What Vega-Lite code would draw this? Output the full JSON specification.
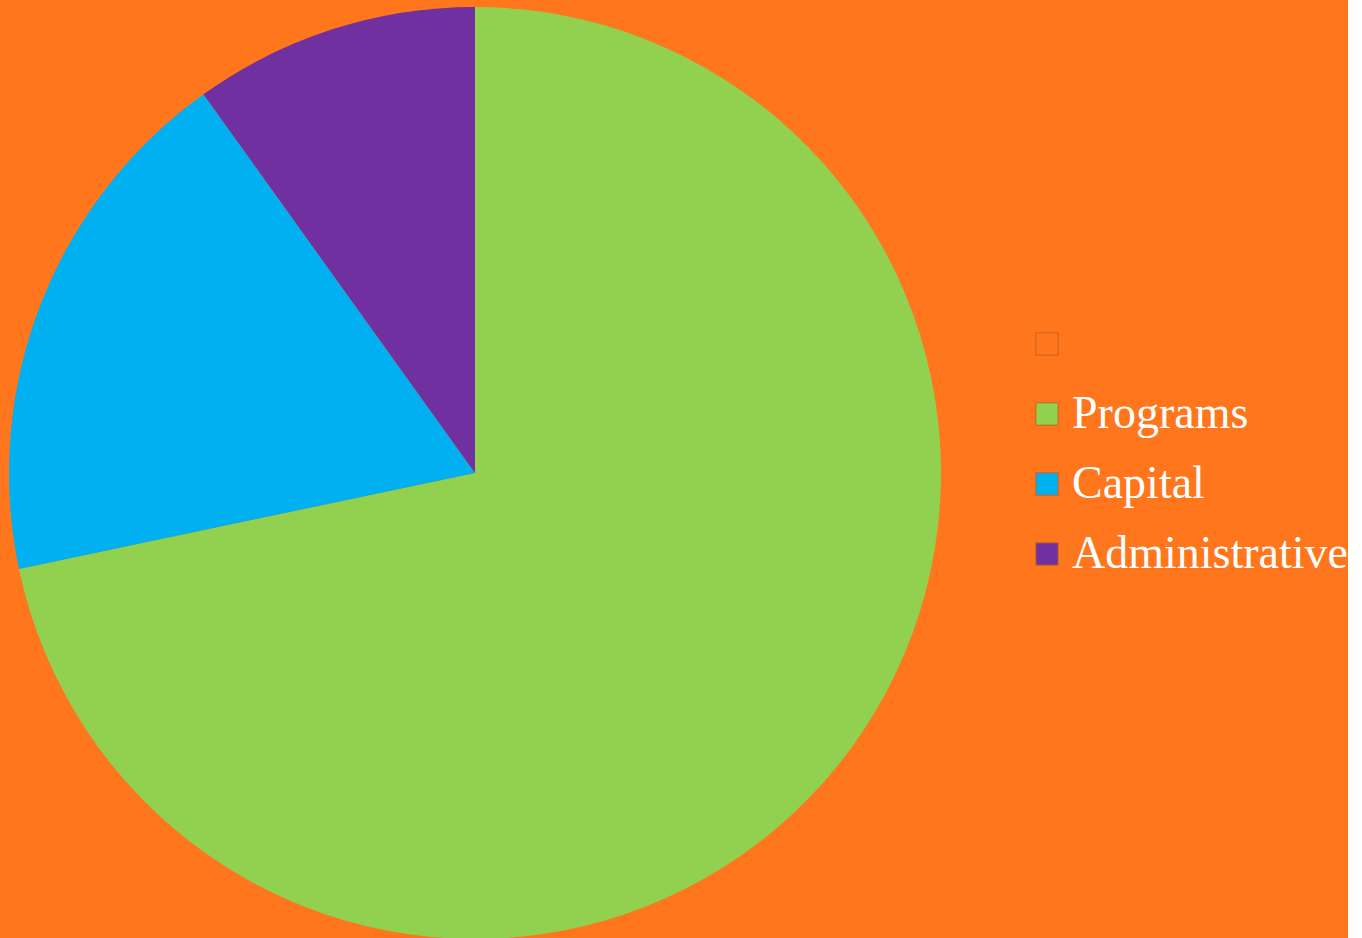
{
  "$schema": "https://vega.github.io/schema/vega-lite/v6.json",
  "width": 950,
  "height": 946,
  "padding": 0,
  "background": "#FF761C",
  "view": {"stroke": null},
  "data": {
    "values": [
      {"category": "", "value": 0, "rank": 0},
      {"category": "Programs", "value": 71.7, "rank": 1},
      {"category": "Capital", "value": 18.4, "rank": 2},
      {"category": "Administrative", "value": 9.9, "rank": 3}
    ]
  },
  "mark": {"type": "arc", "outerRadius": 466},
  "encoding": {
    "theta": {"field": "value", "type": "quantitative", "stack": true},
    "order": {"field": "rank", "type": "quantitative"},
    "color": {
      "field": "category",
      "type": "nominal",
      "scale": {
        "domain": ["", "Programs", "Capital", "Administrative"],
        "range": ["#FF761C", "#92D050", "#00B0F0", "#7030A0"]
      },
      "legend": {
        "title": null,
        "orient": "none",
        "legendX": 1024,
        "legendY": 321,
        "symbolType": "square",
        "symbolSize": 500,
        "symbolStrokeColor": "#C8641E",
        "symbolStrokeWidth": 1,
        "symbolOpacity": 1,
        "labelFont": "Liberation Serif",
        "labelFontSize": 46,
        "labelColor": "#FFFFFF",
        "labelOffset": 2,
        "rowPadding": 24,
        "labelLimit": 400
      }
    }
  }
}
